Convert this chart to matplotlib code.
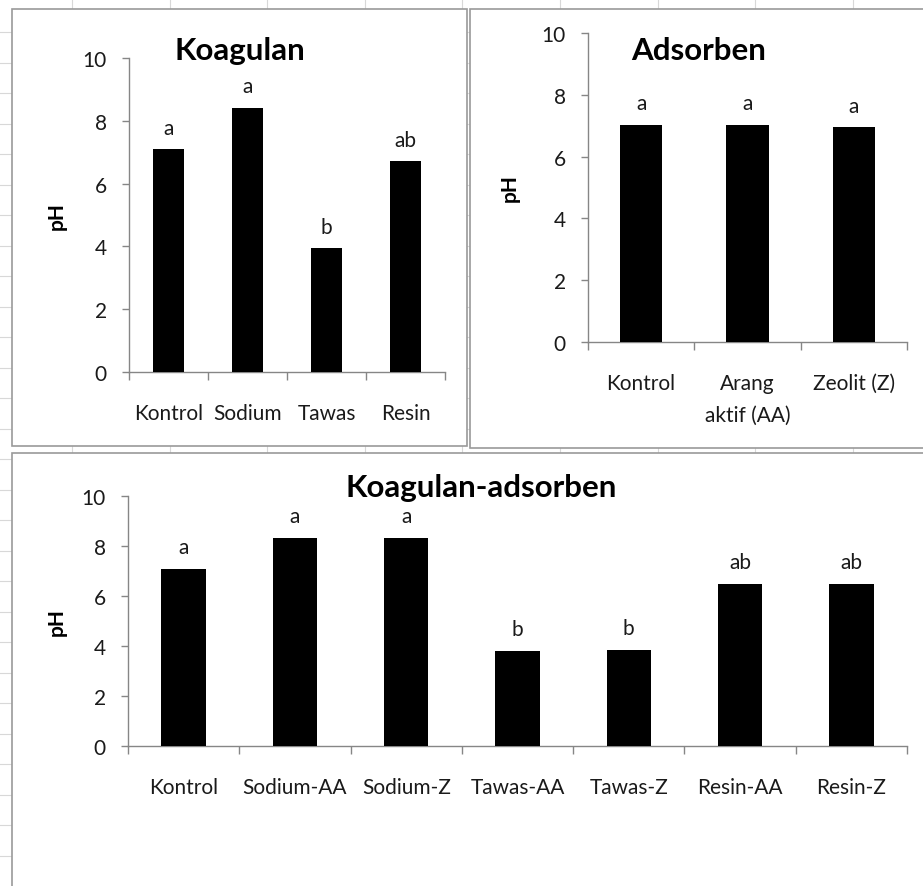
import matplotlib
matplotlib.use("Agg")
import matplotlib.pyplot as plt
from matplotlib.lines import Line2D
from matplotlib.patches import Rectangle
import numpy as np

plt.rcParams['font.family'] = ['Lato', 'DejaVu Sans']

# data
koag_cats = ["Kontrol", "Sodium", "Tawas", "Resin"]
koag_ph = [7.10, 8.42, 3.95, 6.71]
koag_sig = ["a", "a", "b", "ab"]

ads_cats = ["Kontrol", "Arang\naktif (AA)", "Zeolit (Z)"]
ads_ph = [7.03, 7.03, 6.95]
ads_sig = ["a", "a", "a"]

ka_cats = ["Kontrol", "Sodium-AA", "Sodium-Z", "Tawas-AA", "Tawas-Z", "Resin-AA", "Resin-Z"]
ka_ph = [7.10, 8.33, 8.33, 3.81, 3.86, 6.50, 6.50]
ka_sig = ["a", "a", "a", "b", "b", "ab", "ab"]

yticks = [0, 2, 4, 6, 8, 10]

W, H = 923, 887
fig = plt.figure(figsize=(W / 100, H / 100), dpi=100)
fig.patch.set_facecolor("white")


def fx(px):
    return px / W


def fy(py):
    return 1 - py / H


# spreadsheet cell lines behind the charts
for x in np.arange(72, W, 97.6):
    fig.add_artist(Line2D([fx(x), fx(x)], [0, 1], color="#d8d8d8", lw=0.8, zorder=-3))
for y in np.arange(33, H, 30.5):
    fig.add_artist(Line2D([0, 1], [fy(y), fy(y)], color="#d8d8d8", lw=0.8, zorder=-3))

# chart frames
for x0, y0, x1, y1 in [(12, 10, 467, 447), (470, 10, 935, 449), (12, 454, 935, 900)]:
    fig.add_artist(Rectangle((fx(x0), fy(y1)), fx(x1 - x0), (y1 - y0) / H,
                             facecolor="white", edgecolor="#9a9a9a", lw=1.2, zorder=-2))


def bar_panel(rect, cats, vals, sigs, title, title_xy, ylab_x, xpad):
    left, top, right, bottom = rect
    ax = fig.add_axes([fx(left), fy(bottom), fx(right - left), (bottom - top) / H])
    ax.set_facecolor("none")
    n = len(cats)
    x = np.arange(n)
    ax.bar(x, vals, width=0.4, color="black", zorder=3)
    for xi, v, s in zip(x, vals, sigs):
        ax.annotate(s, (xi, v), xytext=(0, 11), textcoords="offset points",
                    ha="center", va="baseline", fontsize=15, color="#1a1a1a")
    ax.set_xlim(-0.5, n - 0.5)
    ax.set_ylim(0, 10)
    ax.set_yticks(yticks)
    ax.set_xticks(np.arange(n + 1) - 0.5)
    ax.set_xticklabels([])
    ax.set_xticks(x, minor=True)
    ax.set_xticklabels(cats, minor=True, fontsize=15, color="#1a1a1a", linespacing=1.75)
    ax.tick_params(axis="x", which="major", direction="out", length=6, width=1, color="#868686")
    ax.tick_params(axis="x", which="minor", length=0, pad=xpad)
    ax.tick_params(axis="y", direction="out", length=5, width=1, color="#868686",
                   pad=11, labelsize=15, labelcolor="#1a1a1a")
    for side in ["top", "right"]:
        ax.spines[side].set_visible(False)
    for side in ["left", "bottom"]:
        ax.spines[side].set_color("#868686")
        ax.spines[side].set_linewidth(1)
    ax.text(ylab_x, 0.5, "pH", transform=ax.transAxes, rotation=90,
            ha="center", va="center", fontsize=15, fontweight="bold")
    fig.text(fx(title_xy[0]), fy(title_xy[1]), title, ha="center", va="baseline",
             fontsize=22.5, fontweight="bold")
    return ax


bar_panel((129, 59, 445, 373), koag_cats, koag_ph, koag_sig,
          "Koagulan", (240, 60), -0.228, 22)
bar_panel((588, 34, 907, 343), ads_cats, ads_ph, ads_sig,
          "Adsorben", (699, 60), -0.245, 22)
bar_panel((128, 497, 907, 747), ka_cats, ka_ph, ka_sig,
          "Koagulan-adsorben", (481, 497), -0.091, 22)

fig.savefig("out.png", dpi=100)
